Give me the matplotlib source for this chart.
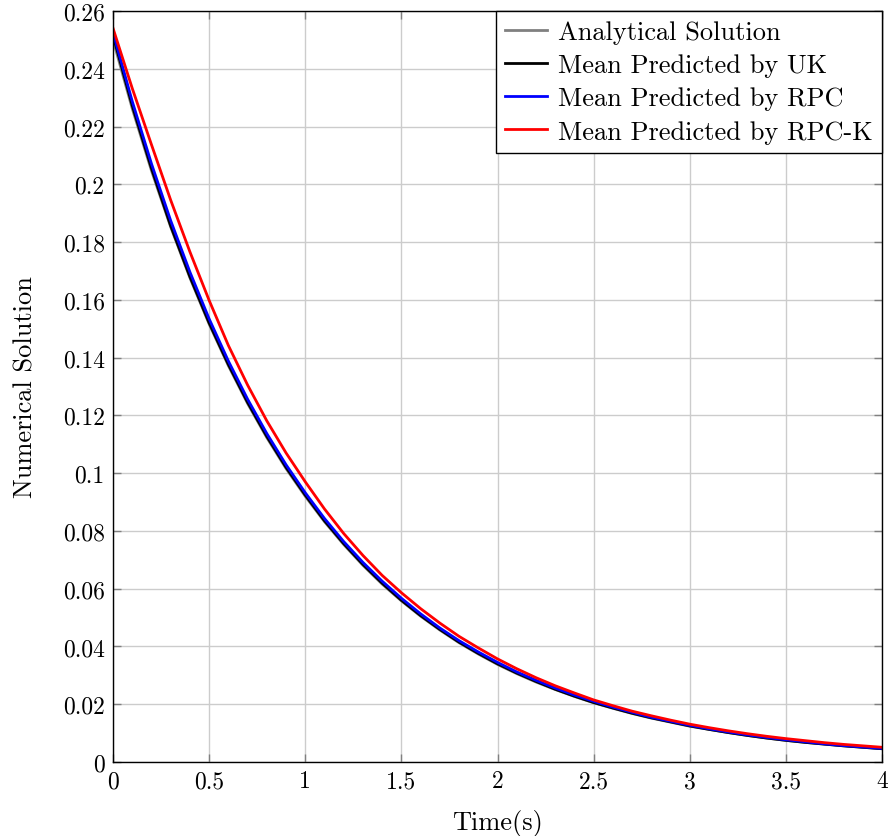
import matplotlib.pyplot as plt
import numpy as np

# time grid (s)
time = [0.0, 0.1, 0.2, 0.3, 0.4, 0.5, 0.6, 0.7, 0.8, 0.9,
        1.0, 1.1, 1.2, 1.3, 1.4, 1.5, 1.6, 1.7, 1.8, 1.9,
        2.0, 2.1, 2.2, 2.3, 2.4, 2.5, 2.6, 2.7, 2.8, 2.9,
        3.0, 3.1, 3.2, 3.3, 3.4, 3.5, 3.6, 3.7, 3.8, 3.9, 4.0]

analytical = [0.2500, 0.2262, 0.2047, 0.1852, 0.1676, 0.1516, 0.1372, 0.1241, 0.1123, 0.1016,
              0.0920, 0.0832, 0.0753, 0.0681, 0.0616, 0.0558, 0.0505, 0.0457, 0.0413, 0.0374,
              0.0338, 0.0306, 0.0277, 0.0251, 0.0227, 0.0205, 0.0186, 0.0168, 0.0152, 0.0138,
              0.0124, 0.0113, 0.0102, 0.0092, 0.0083, 0.0075, 0.0068, 0.0062, 0.0056, 0.0051, 0.0046]

mean_uk = [0.2515, 0.2272, 0.2055, 0.1856, 0.1680, 0.1520, 0.1376, 0.1245, 0.1127, 0.1020,
           0.0924, 0.0835, 0.0756, 0.0684, 0.0619, 0.0560, 0.0507, 0.0459, 0.0415, 0.0376,
           0.0340, 0.0308, 0.0279, 0.0252, 0.0228, 0.0206, 0.0187, 0.0169, 0.0153, 0.0139,
           0.0125, 0.0113, 0.0102, 0.0092, 0.0083, 0.0075, 0.0068, 0.0062, 0.0056, 0.0051, 0.0046]

mean_rpc = [0.2525, 0.2287, 0.2071, 0.1874, 0.1696, 0.1534, 0.1388, 0.1256, 0.1137, 0.1029,
            0.0932, 0.0843, 0.0763, 0.0691, 0.0626, 0.0567, 0.0513, 0.0464, 0.0420, 0.0381,
            0.0345, 0.0312, 0.0283, 0.0256, 0.0232, 0.0210, 0.0190, 0.0172, 0.0155, 0.0141,
            0.0127, 0.0115, 0.0104, 0.0094, 0.0085, 0.0077, 0.0070, 0.0063, 0.0057, 0.0052, 0.0047]

mean_rpck = [0.2540, 0.2332, 0.2137, 0.1945, 0.1766, 0.1598, 0.1442, 0.1305, 0.1181, 0.1070,
             0.0970, 0.0876, 0.0791, 0.0715, 0.0646, 0.0586, 0.0531, 0.0481, 0.0435, 0.0395,
             0.0357, 0.0323, 0.0292, 0.0264, 0.0239, 0.0215, 0.0195, 0.0176, 0.0160, 0.0145,
             0.0131, 0.0119, 0.0108, 0.0098, 0.0089, 0.0081, 0.0074, 0.0067, 0.0061, 0.0056, 0.0051]

xticks = [0, 0.5, 1, 1.5, 2, 2.5, 3, 3.5, 4]
xtick_labels = ['0', '0.5', '1', '1.5', '2', '2.5', '3', '3.5', '4']
yticks = [0, 0.02, 0.04, 0.06, 0.08, 0.1, 0.12, 0.14, 0.16, 0.18, 0.2, 0.22, 0.24, 0.26]
ytick_labels = ['0', '0.02', '0.04', '0.06', '0.08', '0.1', '0.12', '0.14', '0.16',
                '0.18', '0.2', '0.22', '0.24', '0.26']

plt.rcParams['font.family'] = ['cmr10', 'DejaVu Serif']
plt.rcParams['font.size'] = 19

fig = plt.figure(figsize=(8.88, 8.37), dpi=100)
ax = fig.add_axes([0.1273, 0.0884, 0.8659, 0.8973])

# curves
ax.plot(time, analytical, color='#808080', linewidth=2, label='Analytical Solution')
ax.plot(time, mean_uk, color='black', linewidth=2, label='Mean Predicted by UK')
ax.plot(time, mean_rpc, color='blue', linewidth=2, label='Mean Predicted by RPC')
ax.plot(time, mean_rpck, color='red', linewidth=2, label='Mean Predicted by RPC-K')

ax.set_xlim(0, 4)
ax.set_ylim(0, 0.26)
ax.set_xticks(xticks)
ax.set_xticklabels(xtick_labels)
ax.set_yticks(yticks)
ax.set_yticklabels(ytick_labels)
ax.tick_params(direction='in', length=6, width=1, color='#808080',
               top=True, right=True, pad=6, labelsize=17)
ax.grid(True, color='#cccccc', linewidth=1)
ax.set_axisbelow(True)
for s in ax.spines.values():
    s.set_linewidth(1)
    s.set_color('black')

ax.set_xlabel('Time(s)', labelpad=12)
ax.set_ylabel('Numerical Solution', labelpad=18)

leg = ax.legend(loc='upper right', borderaxespad=0, fancybox=False, framealpha=1,
                edgecolor='black', handlelength=1.6, labelspacing=0.36,
                handletextpad=0.4, borderpad=0.35)
leg.get_frame().set_linewidth(1)

fig.savefig('out.png', dpi=100)
